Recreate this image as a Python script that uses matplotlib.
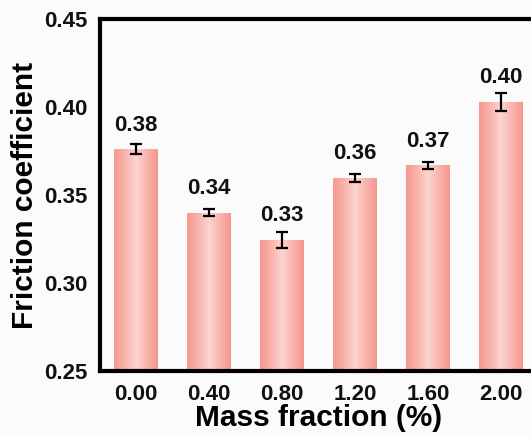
import numpy as np
import matplotlib
matplotlib.use("Agg")
import matplotlib.pyplot as plt
from matplotlib.colors import LinearSegmentedColormap

categories = ["0.00", "0.40", "0.80", "1.20", "1.60", "2.00"]
values = [0.376, 0.340, 0.3245, 0.3598, 0.3668, 0.4029]
errors = [0.0028, 0.0022, 0.0047, 0.0024, 0.0019, 0.0052]
labels = ["0.38", "0.34", "0.33", "0.36", "0.37", "0.40"]
yticks = [0.25, 0.30, 0.35, 0.40, 0.45]

plt.rcParams['font.family'] = ['Liberation Sans', 'DejaVu Sans']
plt.rcParams['font.weight'] = 'bold'

fig = plt.figure(figsize=(5.31, 4.36), dpi=100)
fig.patch.set_facecolor('#fbfbfb')
W, H = 531, 436
left, right, top, bottom = 100, 537, 19, 371
ax = fig.add_axes([left / W, 1 - bottom / H, (right - left) / W, (bottom - top) / H])
ax.set_facecolor('#fbfbfb')

x = np.arange(len(categories))
bars = ax.bar(x, values, width=0.6, bottom=0, color='none', edgecolor='none', zorder=2)

cmap = LinearSegmentedColormap.from_list(
    'salmon', ['#f59890', '#f9b2ab', '#fdd5d0', '#f9b5ae', '#f4958d'])
grad = np.linspace(0, 1, 256).reshape(1, -1)
for b in bars:
    bx, bw, bh = b.get_x(), b.get_width(), b.get_height()
    im = ax.imshow(grad, cmap=cmap, aspect='auto', extent=[bx, bx + bw, 0.25, bh],
                   zorder=2, interpolation='bicubic')
    im.set_clip_path(b)

ax.errorbar(x, values, yerr=errors, fmt='none', ecolor='black', elinewidth=1.6,
            capsize=4, capthick=1.6, zorder=3)

for xi, v, lab in zip(x, values, labels):
    ax.text(xi, v + 0.0137, lab, ha='center', va='center', fontsize=16,
            fontweight='bold', color='#111111')

ax.set_xlim(-0.49, len(categories) - 0.51)
ax.set_ylim(0.25, 0.45)
ax.set_yticks(yticks)
ax.set_yticklabels([f"{t:.2f}" for t in yticks])
ax.set_xticks(x)
ax.set_xticklabels(categories)
ax.tick_params(axis='y', length=0, labelsize=16, pad=9)
ax.tick_params(axis='x', length=0, labelsize=16, pad=9)
for lab in ax.get_xticklabels() + ax.get_yticklabels():
    lab.set_fontweight('bold')
    lab.set_color('#111111')

for s in ax.spines.values():
    s.set_linewidth(3)
    s.set_color('black')

ax.set_xlabel('Mass fraction (%)', fontsize=21.5, fontweight='bold', labelpad=0)
ax.set_ylabel('Friction coefficient', fontsize=21.5, fontweight='bold', labelpad=4)

fig.savefig('out.png', dpi=100, facecolor=fig.get_facecolor())
